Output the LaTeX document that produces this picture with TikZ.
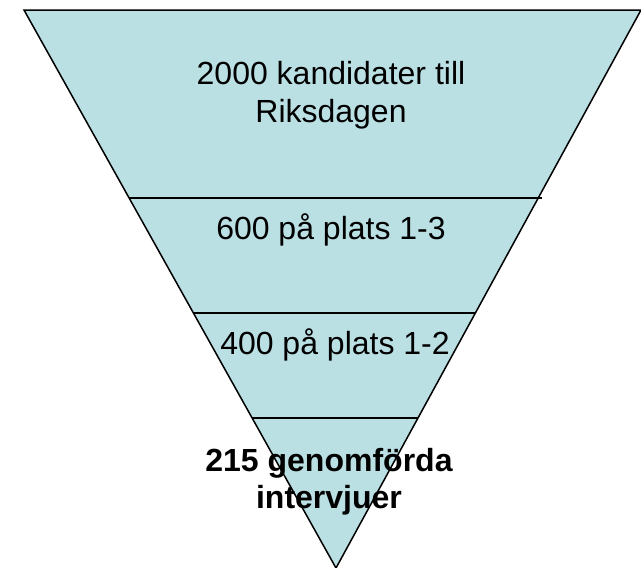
\documentclass[tikz,border=0pt]{standalone}
\usepackage{fontspec}
\setmainfont{Liberation Sans}
\usetikzlibrary{calc}
\definecolor{funnelblue}{RGB}{186,224,228}
\begin{document}
\begin{tikzpicture}[
    x=1pt, y=-1pt,
    funnel/.style={draw=black, line width=1.5pt, line join=miter},
    divider/.style={draw=black, line width=1.2pt},
    layer/.style={align=center, inner sep=0pt, font=\fontsize{32}{38}\selectfont}
]
    \useasboundingbox (0,0) rectangle (641,568);

    \coordinate (tl) at (24,10);
    \coordinate (tr) at (641,10);
    \coordinate (apex) at (336,568);
    \fill[funnelblue] (tl) -- (tr) -- (apex) -- cycle;

    \node[layer] (kandidater) at (331,95) {2000 kandidater till\\Riksdagen};
    \node[layer, anchor=base] (plats13) at (331,239) {600 på plats 1-3};
    \node[layer, anchor=base] (plats12) at (335,354) {400 på plats 1-2};
    \node[layer, font=\fontsize{32}{37}\selectfont\bfseries] (intervjuer) at (329,482) {215 genomförda\\intervjuer};

    % dividers between the layers
    \coordinate (d1l) at ($(tl)!0.337!(apex)$);
    \coordinate (d1r) at ($(tr)!0.337!(apex)$);
    \coordinate (d2l) at ($(tl)!0.543!(apex)$);
    \coordinate (d2r) at ($(tr)!0.543!(apex)$);
    \coordinate (d3l) at ($(tl)!0.731!(apex)$);
    \coordinate (d3r) at ($(tr)!0.731!(apex)$);
    \draw[divider] (d1l) -- ([xshift=4pt]d1r);
    \draw[divider] (d2l) -- (d2r);
    \draw[divider] (d3l) -- (d3r);

    \draw[funnel] (tl) -- (tr) -- (apex) -- cycle;
\end{tikzpicture}
\end{document}
